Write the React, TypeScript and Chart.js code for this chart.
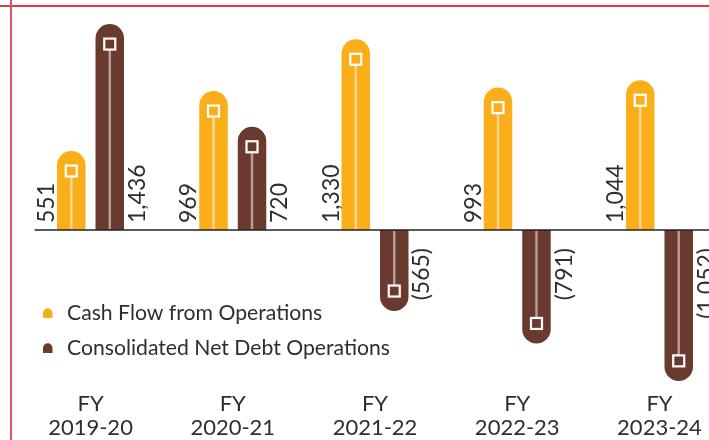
import React, { useEffect, useRef } from "react";
import { Chart, registerables } from "chart.js";
Chart.register(...registerables);

const categoryTop = ["FY", "FY", "FY", "FY", "FY"];
const categoryYears = ["2019-20", "2020-21", "2021-22", "2022-23", "2023-24"];
const cashFlow = [551, 969, 1330, 993, 1044];
const netDebt = [1436, 720, -565, -791, -1052];
const seriesNames = ["Cash Flow from Operations", "Consolidated Net Debt Operations"];
const yMin = -1200;
const yMax = 1500;

const COLORS = ["#F9AE1A", "#6B3A2F"];
const STICKS = ["#FCD68C", "#B59C97"];
const TEXT = "#2E2E2E";
const FONT = "Lato, 'Open Sans', sans-serif";

function fmt(v: number): string {
  const s = Math.abs(v).toLocaleString("en-US");
  return v < 0 ? `(${s})` : s;
}

const decor = {
  id: "decor",
  afterDatasetsDraw(chart: any) {
    const ctx = chart.ctx as CanvasRenderingContext2D;
    const yScale = chart.scales.y;
    const xScale = chart.scales.x;
    const zero = yScale.getPixelForValue(0);
    ctx.save();
    // zero line
    ctx.strokeStyle = "#222";
    ctx.lineWidth = 1.5;
    ctx.beginPath();
    ctx.moveTo(34.5, zero);
    ctx.lineTo(chart.width, zero);
    ctx.stroke();

    chart.data.datasets.forEach((ds: any, di: number) => {
      const meta = chart.getDatasetMeta(di);
      meta.data.forEach((bar: any, i: number) => {
        const v = ds.data[i] as number;
        const x = bar.x;
        const w = bar.width;
        const dir = v >= 0 ? 1 : -1;
        const mY = bar.y + dir * 20;
        // stick
        ctx.strokeStyle = STICKS[di];
        ctx.lineWidth = 2.5;
        ctx.beginPath();
        ctx.moveTo(x, zero - dir * 1);
        ctx.lineTo(x, mY);
        ctx.stroke();
        // marker
        ctx.fillStyle = COLORS[di];
        ctx.fillRect(x - 5.5, mY - 5.5, 11, 11);
        ctx.strokeStyle = "#ffffff";
        ctx.lineWidth = 2.2;
        ctx.strokeRect(x - 5.5, mY - 5.5, 11, 11);
        // value label
        ctx.save();
        ctx.fillStyle = TEXT;
        ctx.font = `23px ${FONT}`;
        ctx.textBaseline = "alphabetic";
        let ax: number, ay: number;
        if (di === 0) {
          ax = x - w / 2 - 3;
          ay = zero - 7;
          ctx.textAlign = "left";
        } else if (v >= 0) {
          ax = x + w / 2 + 21;
          ay = zero - 7;
          ctx.textAlign = "left";
        } else {
          ax = x + w / 2 + 21;
          ay = zero + 18;
          ctx.textAlign = "right";
        }
        ctx.translate(ax, ay);
        ctx.rotate(-Math.PI / 2);
        ctx.fillText(fmt(v), 0, 0);
        ctx.restore();
      });
    });

    // x labels
    ctx.fillStyle = TEXT;
    ctx.font = `22px ${FONT}`;
    ctx.textAlign = "center";
    ctx.textBaseline = "alphabetic";
    categoryYears.forEach((yr, i) => {
      const cx = xScale.getPixelForValue(i);
      ctx.fillText(categoryTop[i], cx, 411);
      ctx.fillText(yr, cx, 435);
    });

    // legend
    const legendY = [313, 348];
    seriesNames.forEach((name, i) => {
      const cy = legendY[i];
      ctx.fillStyle = COLORS[i];
      ctx.beginPath();
      const lx = 43, rw = 9.5;
      ctx.moveTo(lx, cy + 5);
      ctx.lineTo(lx, cy);
      ctx.arc(lx + rw / 2, cy, rw / 2, Math.PI, 0);
      ctx.lineTo(lx + rw, cy + 5);
      ctx.closePath();
      ctx.fill();
      ctx.fillStyle = TEXT;
      ctx.font = `21.2px ${FONT}`;
      ctx.textAlign = "left";
      ctx.textBaseline = "middle";
      ctx.fillText(name, 67, cy);
    });
    ctx.restore();
  },
};

export default function App() {
  const ref = useRef<HTMLCanvasElement | null>(null);
  useEffect(() => {
    if (!ref.current) return;
    const labels = categoryYears.map((y, i) => `${categoryTop[i]} ${y}`);
    const common = {
      borderRadius: 14.25,
      borderSkipped: "start",
      inflateAmount: 0,
      categoryPercentage: 0.5413,
      barPercentage: 0.7403,
    };
    const chart = new Chart(ref.current, {
      type: "bar",
      data: {
        labels,
        datasets: [
          { label: seriesNames[0], data: cashFlow, backgroundColor: COLORS[0], ...common } as any,
          { label: seriesNames[1], data: netDebt, backgroundColor: COLORS[1], ...common } as any,
        ],
      },
      options: {
        responsive: false,
        devicePixelRatio: 1,
        animation: false,
        layout: { padding: { left: 19.4, right: 9.4, top: 14.9, bottom: 37.9 } },
        scales: {
          x: { display: false, offset: true },
          y: { display: false, min: yMin, max: yMax },
        },
        plugins: { legend: { display: false }, tooltip: { enabled: false } },
      },
      plugins: [decor],
    });
    return () => chart.destroy();
  }, []);

  return (
    <div
      style={{
        position: "fixed",
        left: 0,
        top: 0,
        width: 709,
        height: 440,
        overflow: "hidden",
        background: "#ffffff",
      }}
    >
      <canvas
        ref={ref}
        width={740}
        height={440}
        style={{ position: "absolute", left: 0, top: 0, width: 740, height: 440 }}
      />
      <div style={{ position: "absolute", left: 0, top: 5, width: 709, height: 1.5, background: "#DF3B45" }} />
      <div style={{ position: "absolute", left: 10, top: 0, width: 1.5, height: 440, background: "#E4505A" }} />
    </div>
  );
}
